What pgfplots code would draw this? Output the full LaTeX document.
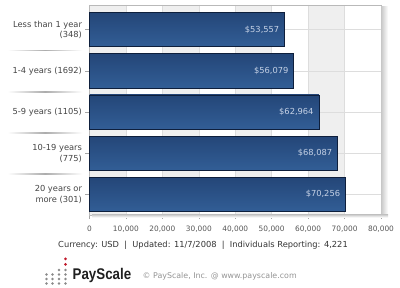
\documentclass[border=0pt]{standalone}
\usepackage{pgfplots}
\pgfplotsset{compat=1.18}
\usepackage{fontspec}
\setmainfont{DejaVu Sans}
\newfontfamily\logofont{Liberation Sans}
\definecolor{bandgray}{HTML}{EFEFEF}
\definecolor{gridgray}{HTML}{DDDDDD}
\definecolor{bardark}{HTML}{0E1F3C}
\definecolor{bartop}{HTML}{244678}
\definecolor{barmid}{HTML}{4B74A8}
\definecolor{barbot}{HTML}{325E96}
\definecolor{vallabel}{HTML}{C6D2E6}
\definecolor{labgray}{HTML}{444444}
\definecolor{tickgray}{HTML}{555555}
\definecolor{logored}{HTML}{C0182A}
\definecolor{dotgray}{HTML}{8A8A8A}
\pgfplotsset{mybar/.style={draw=bardark, line width=0.8pt, top color=bartop, middle color=barmid, bottom color=barbot, bar shift=0pt}}
\begin{document}
\begin{tikzpicture}[x=1pt,y=1pt]
% shadow of the plot frame
\shade[left color=black!22, right color=white] (381,70) rectangle (388,281);
\shade[top color=black!18, bottom color=white] (92,70.5) rectangle (388,73);
\begin{axis}[
  set layers,
  scale only axis,
  width=291.5pt, height=210pt,
  at={(89.5pt,73pt)}, anchor=south west,
  xbar,
  xmin=0, xmax=80000,
  ymin=-0.6, ymax=4.5,
  y dir=reverse,
  clip=false,
  bar width=0.83,
  ytick={0,1,2,3,4},
  yticklabels={{Less than 1 year\\(348)},{1-4 years (1692)},{5-9 years (1105)},{10-19 years\\(775)},{20 years or\\more (301)}},
  yticklabel style={font=\fontsize{8.3}{10.5}\selectfont, text=labgray, align=right},
  xtick={0,10000,...,80000},
  scaled x ticks=false,
  /pgf/number format/1000 sep={,},
  /pgf/number format/assume math mode=true,
  xticklabel style={font=\fontsize{7.4}{9}\selectfont, text=tickgray, yshift=-3pt},
  tick pos=left,
  tick align=outside,
  major tick length=4pt,
  tick style={draw=gray!70, line width=0.5pt},
  axis line style={draw=gray!55},
  xmajorgrids, ymajorgrids,
  grid style={draw=gridgray, line width=0.6pt},
  nodes near coords={\$\pgfmathprintnumber[1000 sep={,}]{\pgfplotspointmeta}},
  point meta=x,
  every node near coord/.append style={anchor=east, xshift=-5pt, inner sep=0pt, font=\fontsize{8.3}{10}\selectfont, text=vallabel},
]
\begin{pgfonlayer}{axis background}
\fill[bandgray] (axis cs:0,-0.6) rectangle (axis cs:10000,4.5);
\fill[bandgray] (axis cs:20000,-0.6) rectangle (axis cs:30000,4.5);
\fill[bandgray] (axis cs:40000,-0.6) rectangle (axis cs:50000,4.5);
\fill[bandgray] (axis cs:60000,-0.6) rectangle (axis cs:70000,4.5);
\end{pgfonlayer}
\addplot[mybar] coordinates {(53557,0)};
\addplot[mybar] coordinates {(56079,1)};
\addplot[mybar] coordinates {(62964,2)};
\addplot[mybar] coordinates {(68087,3)};
\addplot[mybar] coordinates {(70256,4)};
\pgfplotsinvokeforeach{0.5,1.5,2.5,3.5}{
  \shade[left color=white, right color=white, middle color=gray!65]
    ([xshift=-82pt]axis cs:0,#1) rectangle ([xshift=-7pt,yshift=-0.7pt]axis cs:0,#1);
}
\end{axis}
% footer
\node[font=\fontsize{8.3}{10}\selectfont, text=black!80] at (203,43)
  {Currency: USD\ \ |\ \ Updated: 11/7/2008\ \ |\ \ Individuals Reporting: 4,221};
% logo
\fill[logored] (65.5,29) circle (1.5);
\fill[logored] (65.5,23.5) circle (1.5);
\foreach \x in {59,65.5} \fill[dotgray] (\x,18) circle (1.4);
\foreach \y in {13.5,9,4.5} {
  \foreach \x in {46.5,52.5,59,65.5} \fill[dotgray] (\x,\y) circle (1.4);
}
\node[anchor=west, inner sep=0pt, xscale=0.86, font=\logofont\bfseries\fontsize{15.5}{16}\selectfont, text=black!88] at (72.5,12) {PayScale};
\node[anchor=west, inner sep=0pt, font=\fontsize{7.9}{9}\selectfont, text=black!42] at (142.5,12) {\textcopyright\ PayScale, Inc. @ www.payscale.com};
\pgfresetboundingbox
\path[use as bounding box] (0,0) rectangle (400,288);
\end{tikzpicture}
\end{document}
